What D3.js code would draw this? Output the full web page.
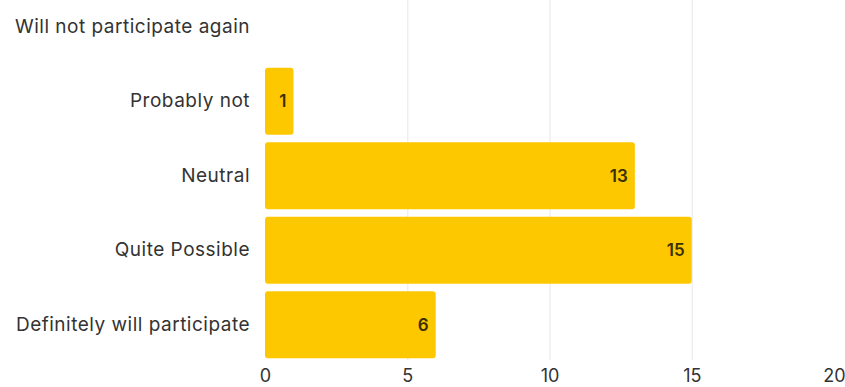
<!DOCTYPE html>
<html>
<head>
<meta charset="utf-8">
<script src="https://cdn.jsdelivr.net/npm/d3@7"></script>
<style>
  body { margin: 0; background: #fff; }
  svg { display: block; font-family: Inter, "Noto Sans", sans-serif; }
</style>
</head>
<body>
<div id="chart"></div>
<script>
// answers, top to bottom
let categories = ['Will not participate again', 'Probably not', 'Neutral', 'Quite Possible', 'Definitely will participate']
let counts = [0, 1, 13, 15, 6]
let xTicks = [0, 5, 10, 15, 20]

let width = 845
let height = 387
let margin = {top: 0, right: 11, bottom: 25, left: 265}

let rows = categories.map((c, i) => ({name: c, value: counts[i]}))

let svg = d3.select('#chart').append('svg')
    .attr('width', width)
    .attr('height', height)

let x = d3.scaleLinear()
    .domain([0, 20])
    .range([margin.left, width - margin.right])

let y = d3.scaleBand()
    .domain(categories)
    .range([-10.5, 362])
    .paddingInner(0.1)
    .paddingOuter(0.05)

// faint vertical grid
svg.append('g')
    .selectAll('line')
    .data(xTicks.slice(1, 4))
    .join('line')
    .attr('x1', d => x(d) + 0.5)
    .attr('x2', d => x(d) + 0.5)
    .attr('y1', 0)
    .attr('y2', 360)
    .attr('stroke', '#efefef')
    .attr('stroke-width', 1.5)

// bars
svg.append('g')
    .selectAll('rect')
    .data(rows)
    .join('rect')
    .attr('x', x(0))
    .attr('y', d => y(d.name))
    .attr('width', d => x(d.value) - x(0))
    .attr('height', y.bandwidth())
    .attr('rx', 3)
    .attr('fill', '#fdc800')

// value labels
svg.append('g')
    .selectAll('text')
    .data(rows.filter(d => d.value > 0))
    .join('text')
    .attr('x', d => x(d.value) - 7)
    .attr('y', d => y(d.name) + y.bandwidth() / 2)
    .attr('text-anchor', 'end')
    .attr('dy', '0.36em')
    .attr('font-size', 17)
    .attr('font-weight', 600)
    .attr('fill', '#3a3000')
    .text(d => d.value)

// category axis
let yAxis = svg.append('g')
    .attr('transform', `translate(${margin.left - 15},0)`)
    .call(d3.axisLeft(y).tickSize(0).tickPadding(0))
yAxis.select('.domain').remove()
yAxis.selectAll('text')
    .attr('font-size', 19)
    .attr('letter-spacing', 0.5)
    .attr('font-family', 'Inter, sans-serif')
    .attr('fill', '#333')

// value axis
let xAxis = svg.append('g')
    .attr('transform', `translate(0,362)`)
    .call(d3.axisBottom(x).tickValues(xTicks).tickSize(0).tickPadding(7))
xAxis.select('.domain').remove()
xAxis.selectAll('text')
    .attr('font-size', 18)
    .attr('font-family', 'Inter, sans-serif')
    .attr('fill', '#333')
</script>
</body>
</html>
